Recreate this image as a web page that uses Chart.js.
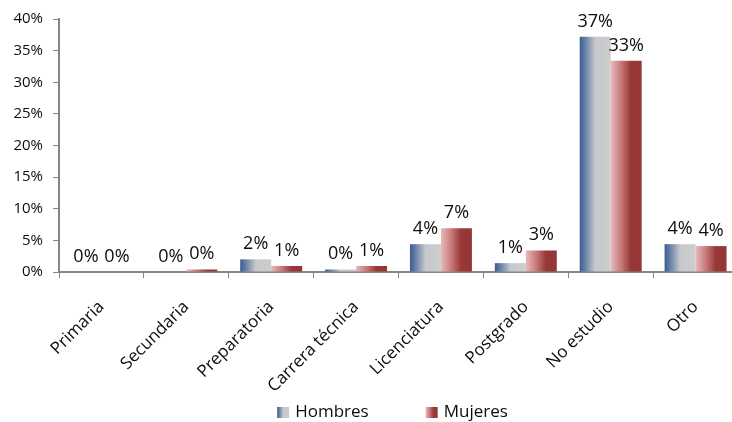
<!DOCTYPE html>
<html>
<head>
<meta charset="utf-8">
<title>Nivel de estudios</title>
<script src="https://cdn.jsdelivr.net/npm/chart.js@4.4.1/dist/chart.umd.min.js"></script>
<style>
  html, body { margin: 0; padding: 0; background: #fff; overflow: hidden; }
  #wrap { width: 742px; height: 422px; }
</style>
</head>
<body>
<div id="wrap"><canvas id="chart"></canvas></div>
<script>
// Percentages per education level
const categories = ['Primaria', 'Secundaria', 'Preparatoria', 'Carrera técnica', 'Licenciatura', 'Postgrado', 'No estudio', 'Otro'];
const seriesNames = ['Hombres', 'Mujeres'];
const hombres = [0, 0, 2.0, 0.4, 4.4, 1.4, 37.2, 4.4];
const mujeres = [0, 0.4, 0.95, 0.95, 6.9, 3.4, 33.4, 4.1];
const yMax = 40;
const yStep = 5;

const FONT = '"Open Sans", "Noto Sans", sans-serif';
const TEXT = '#0d0d0d';
const AXIS = '#868686';
const CAT_PCT = 0.73;

// gradient stops running left -> right across each bar
const blueStops = [[0, '#3a5c90'], [0.2, '#6d85a8'], [0.5, '#c6c8cc'], [1, '#cdcdcd']];
const redStops = [[0, '#e8baba'], [0.35, '#c77777'], [0.65, '#983838'], [1, '#943634']];

function barGradient(stops, side) {
    return function(context) {
        const chart = context.chart;
        const x = chart.scales.x;
        if (!x || !chart.chartArea || context.dataIndex === undefined) return stops[2][1];
        const half = (x.width / categories.length) * CAT_PCT / 2;
        const center = x.getPixelForValue(context.dataIndex);
        const left = side === 0 ? center - half : center;
        const g = chart.ctx.createLinearGradient(left, 0, left + half, 0);
        stops.forEach(s => g.addColorStop(s[0], s[1]));
        return g;
    };
}

function legendGradient(ctx, stops, x, w) {
    const g = ctx.createLinearGradient(x, 0, x + w, 0);
    stops.forEach(s => g.addColorStop(s[0], s[1]));
    return g;
}

// value labels above each bar
const valueLabels = {
    id: 'valueLabels',
    afterDatasetsDraw(chart) {
        const ctx = chart.ctx;
        ctx.save();
        ctx.font = '18px ' + FONT;
        ctx.fillStyle = TEXT;
        ctx.textAlign = 'center';
        ctx.textBaseline = 'alphabetic';
        chart.data.datasets.forEach((ds, i) => {
            chart.getDatasetMeta(i).data.forEach((el, j) => {
                ctx.fillText(Math.round(ds.data[j]) + '%', el.x, el.y - 10);
            });
        });
        ctx.restore();
    }
};

// legend drawn under the rotated category labels
const bottomLegend = {
    id: 'bottomLegend',
    afterDraw(chart) {
        const ctx = chart.ctx;
        const area = chart.chartArea;
        const box = 12, gap = 6, spacing = 57;
        ctx.save();
        ctx.font = '17px ' + FONT;
        ctx.textBaseline = 'middle';
        const stops = [blueStops, redStops];
        const widths = chart.data.datasets.map(ds => box + gap + ctx.measureText(ds.label).width);
        const total = widths.reduce((a, b) => a + b, 0) + spacing * (widths.length - 1);
        let x = (area.left + area.right) / 2 - total / 2 - 6;
        const y = chart.height - 10;
        chart.data.datasets.forEach((ds, i) => {
            ctx.fillStyle = legendGradient(ctx, stops[i], x, box);
            ctx.fillRect(x, y - 5, box, 11);
            ctx.fillStyle = TEXT;
            ctx.fillText(ds.label, x + box + gap, y);
            x += widths[i] + spacing;
        });
        ctx.restore();
    }
};

new Chart(document.getElementById('chart'), {
    type: 'bar',
    data: {
        labels: categories,
        datasets: [
            { label: seriesNames[0], data: hombres, backgroundColor: barGradient(blueStops, 0) },
            { label: seriesNames[1], data: mujeres, backgroundColor: barGradient(redStops, 1) }
        ]
    },
    options: {
        responsive: true,
        maintainAspectRatio: false,
        animation: false,
        devicePixelRatio: 1,
        datasets: {
            bar: { categoryPercentage: CAT_PCT, barPercentage: 1, borderWidth: 0 }
        },
        layout: { padding: { top: 17, right: 4, bottom: 0, left: 0 } },
        plugins: {
            legend: { display: false },
            tooltip: { enabled: false }
        },
        scales: {
            x: {
                grid: { offset: true, drawOnChartArea: false, drawTicks: true, tickLength: 6, color: AXIS },
                border: { color: AXIS, width: 2 },
                ticks: {
                    color: TEXT,
                    font: { family: FONT, size: 17 },
                    maxRotation: 45,
                    minRotation: 45,
                    padding: 19,
                    autoSkip: false
                },
                afterFit(scale) { scale.height = 150; }
            },
            y: {
                min: 0,
                max: yMax,
                grid: { drawOnChartArea: false, drawTicks: true, tickLength: 6, color: AXIS },
                border: { color: AXIS, width: 2 },
                ticks: {
                    stepSize: yStep,
                    color: TEXT,
                    font: { family: FONT, size: 15 },
                    padding: 10,
                    callback: v => v + '%'
                },
                afterFit(scale) { scale.width = 59; }
            }
        }
    },
    plugins: [valueLabels, bottomLegend]
});
</script>
</body>
</html>
